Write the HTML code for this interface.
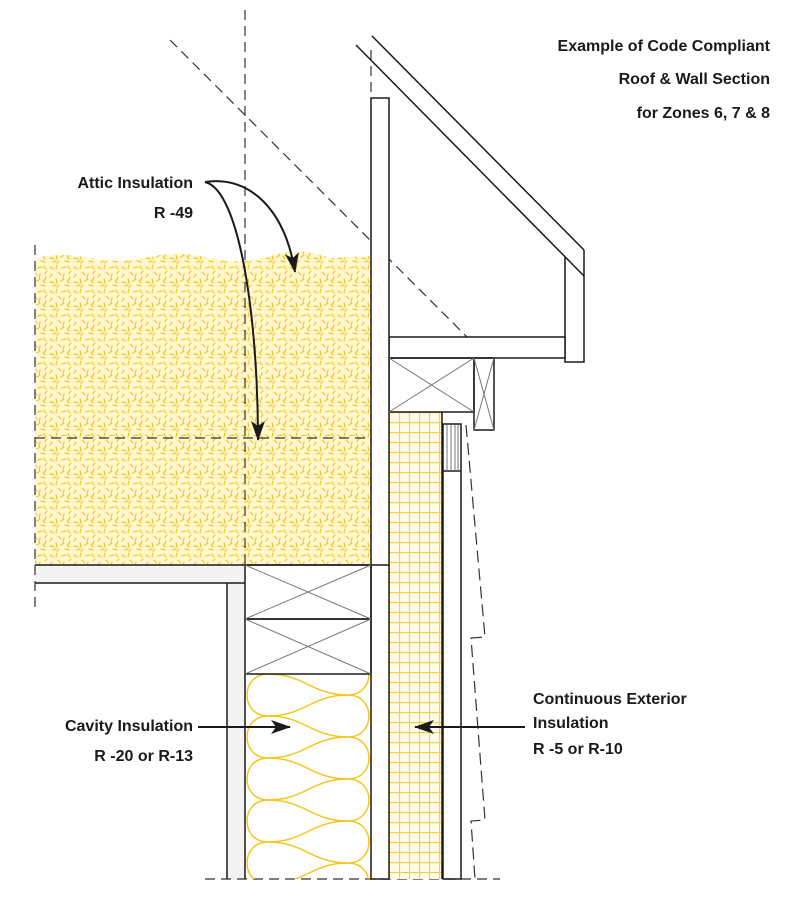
<!DOCTYPE html>
<html><head><meta charset="utf-8"><style>
html,body{margin:0;padding:0;background:#fff;}
svg{display:block;}
text{font-family:"Liberation Sans",sans-serif;font-weight:bold;fill:#1a1a1a;font-size:16px;}
</style></head><body>
<svg width="800" height="909" viewBox="0 0 800 909" xmlns="http://www.w3.org/2000/svg">
<defs>
<pattern id="fib" width="24" height="24" patternUnits="userSpaceOnUse">
<g stroke="#f5c518" stroke-width="1.2" stroke-linecap="round">
<path d="M2 3l3 2M9 1l-1 4M14 4l4-1M20 2l2 3M4 10l-2 3M10 8l3 3M16 10l-1 4M21 9l2-2M2 18l4 1M8 15l1 4M13 17l3-2M19 16l2 3M5 22l3-1M11 21l-2 2M17 21l4 1M22 13l-1 3"/>
</g></pattern>
<pattern id="grid" x="389" y="412" width="10" height="10" patternUnits="userSpaceOnUse">
<path d="M0 0.5H10M0.5 0V10" stroke="#f7cf3a" stroke-width="1.2"/>
</pattern>
<marker id="ah" viewBox="0 0 20 14" refX="19" refY="7" markerWidth="20" markerHeight="14" orient="auto-start-reverse" markerUnits="userSpaceOnUse">
<path d="M0 0L20 7L0 14L5 7z" fill="#1a1a1a"/></marker>
<clipPath id="cav"><rect x="245" y="674" width="126" height="205"/></clipPath>
</defs>

<!-- attic insulation -->
<path d="M35 258 Q60 252 90 258 T150 257 T210 258 T270 256 T330 258 L371 256 V565 H35Z" fill="#fff7d0"/>
<path d="M35 258 Q60 252 90 258 T150 257 T210 258 T270 256 T330 258 L371 256 V565 H35Z" fill="url(#fib)"/>
<rect x="35" y="565" width="210" height="18" fill="#f3f3f3"/>
<rect x="227" y="583" width="18" height="297" fill="#f3f3f3"/>

<!-- dashed lines -->
<g stroke="#333" stroke-width="1.2" fill="none" stroke-dasharray="10,6">
<line x1="170" y1="40" x2="467" y2="337"/>
<line x1="245" y1="10" x2="245" y2="565"/>
<line x1="371" y1="50" x2="371" y2="98"/>
<line x1="35" y1="438" x2="371" y2="438"/>
<line x1="35" y1="245" x2="35" y2="610"/>
<line x1="205" y1="879" x2="500" y2="879"/>
<path d="M466 425 L485 637 L471 638 L485 820 L471 821 L475 879" stroke-dasharray="12,6"/>
</g>

<!-- exterior grid insulation -->
<rect x="389" y="412" width="53" height="467" fill="#fffbe6"/>
<rect x="389" y="412" width="53" height="467" fill="url(#grid)"/>

<!-- batt insulation -->
<g stroke="#f5c518" stroke-width="1.5" fill="none" clip-path="url(#cav)">
<path d="M268 632C240 632 240 674 268 674M268 674C240 674 240 716 268 716M268 716C240 716 240 758 268 758M268 758C240 758 240 800 268 800M268 800C240 800 240 842 268 842M268 842C240 842 240 884 268 884"/>
<path d="M348 653C376 653 376 695 348 695M348 695C376 695 376 737 348 737M348 737C376 737 376 779 348 779M348 779C376 779 376 821 348 821M348 821C376 821 376 863 348 863M348 863C376 863 376 905 348 905"/>
<path d="M268 632C305 632 311 653 348 653M268 674C305 674 311 695 348 695M268 716C305 716 311 737 348 737M268 758C305 758 311 779 348 779M268 800C305 800 311 821 348 821M268 842C305 842 311 863 348 863M268 884C305 884 311 905 348 905"/>
<path d="M268 674C305 674 311 653 348 653M268 716C305 716 311 695 348 695M268 758C305 758 311 737 348 737M268 800C305 800 311 779 348 779M268 842C305 842 311 821 348 821M268 884C305 884 311 863 348 863"/>
</g>

<g stroke="#1a1a1a" stroke-width="1.5" fill="none">
<!-- roof -->
<line x1="372" y1="36" x2="584" y2="250"/>
<line x1="356" y1="45" x2="584" y2="276"/>
<path d="M565 257 V362 H584 V250"/>
<rect x="389" y="337" width="176" height="21" fill="#fff"/>
<!-- plates -->
<rect x="389" y="358" width="85" height="54"/>
<rect x="474" y="358" width="20" height="72"/>
<!-- tall board -->
<rect x="371" y="98" width="18" height="781" fill="#fff"/>
<line x1="442" y1="412" x2="442" y2="879"/>
<!-- furring / siding -->
<rect x="443" y="424" width="18" height="455"/>
<line x1="443" y1="471" x2="461" y2="471"/>
<!-- ceiling -->
<line x1="35" y1="565" x2="389" y2="565"/>
<path d="M35 583 H245 M227 583 V879"/>
<rect x="245" y="565" width="126" height="54"/>
<rect x="245" y="619" width="126" height="55"/>
<line x1="245" y1="674" x2="245" y2="879"/>
</g>
<g stroke="#777" stroke-width="1" fill="none">
<path d="M389 358L474 412M474 358L389 412M474 358L494 430M494 358L474 430"/>
<path d="M245 565L371 619M371 565L245 619M245 619L371 674M371 619L245 674"/>
<path d="M447 425V471M451 425V471M455 425V471M458 425V471"/>
</g>

<!-- arrows -->
<g stroke="#1a1a1a" stroke-width="2" fill="none">
<path d="M205 182 C250 175 285 210 295 272" marker-end="url(#ah)"/>
<path d="M205 182 C240 190 258 320 258 440" marker-end="url(#ah)"/>
<line x1="198" y1="727" x2="290" y2="727" marker-end="url(#ah)"/>
<line x1="525" y1="727" x2="415" y2="727" marker-end="url(#ah)"/>
</g>

<!-- text -->
<text x="770" y="51" text-anchor="end">Example of Code Compliant</text>
<text x="770" y="84" text-anchor="end">Roof &amp; Wall Section</text>
<text x="770" y="118" text-anchor="end">for Zones 6, 7 &amp; 8</text>
<text x="193" y="188" text-anchor="end">Attic Insulation</text>
<text x="193" y="218" text-anchor="end">R -49</text>
<text x="193" y="731" text-anchor="end">Cavity Insulation</text>
<text x="193" y="761" text-anchor="end">R -20 or R-13</text>
<text x="533" y="704">Continuous Exterior</text>
<text x="533" y="728">Insulation</text>
<text x="533" y="754">R -5 or R-10</text>
</svg>
</body></html>
